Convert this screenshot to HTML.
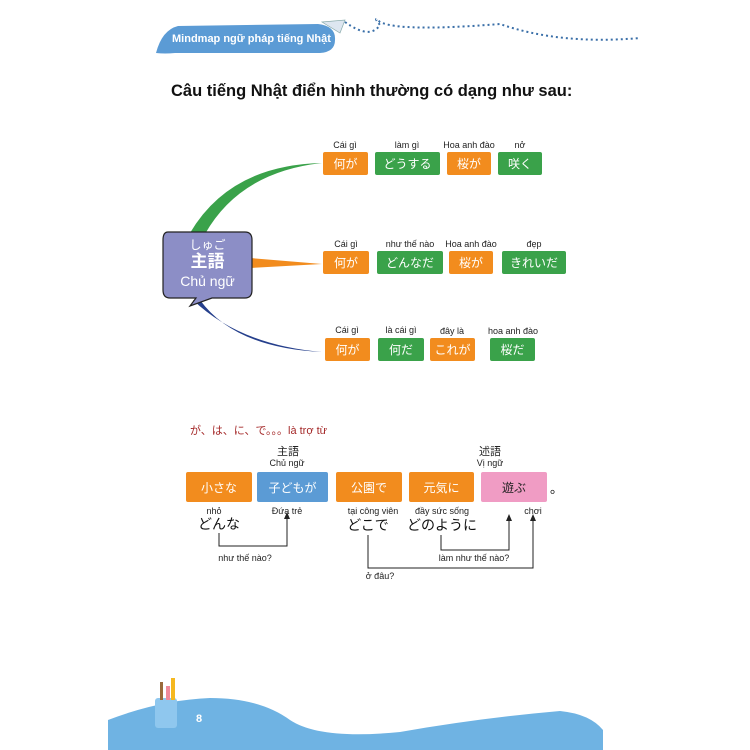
<!DOCTYPE html>
<html><head><meta charset="utf-8"><style>
body{margin:0;width:750px;height:750px;background:#fff;position:relative;overflow:hidden;font-family:"Liberation Sans","Noto Sans CJK JP",sans-serif}
.a{position:absolute}
.b{position:absolute;color:#fff;font-size:12px;text-align:center;border-radius:2px;display:flex;align-items:center;justify-content:center}
.o{background:#f28c1e}.g{background:#3aa24a}
.l{position:absolute;font-size:9px;color:#222;text-align:center;white-space:nowrap;transform:translateX(-50%)}
.j{position:absolute;font-size:14px;color:#111;white-space:nowrap;transform:translateX(-50%)}
</style></head><body>
<svg class="a" style="left:0;top:0" width="750" height="750">
<path d="M156 53 Q162 30 178 26 L318 24 Q336 26 335 40 Q335 52 320 53 L175 53 Q165 54 156 53 Z" fill="#5b9bd5"/>
<path d="M322 22 L345 20 L340 33 Z" fill="#dde6f0" stroke="#8aa" stroke-width="0.7"/>
<path d="M345 22 Q370 40 380 25 Q372 15 380 22 Q400 32 500 24 Q560 45 640 38" fill="none" stroke="#3a6fa8" stroke-width="2" stroke-dasharray="2 3"/>
<path d="M190 233 Q230 165 322 163 Q240 172 205 234 Z" fill="#3aa24a"/>
<path d="M250 258 L322 264 L250 268 Z" fill="#f28c1e"/>
<path d="M193 300 Q240 345 322 352 Q235 348 200 300 Z" fill="#253f8c"/>
<path d="M168 232 L245 232 Q252 232 252 240 L252 290 Q252 298 245 298 L212 298 L190 306 L196 298 L170 298 Q163 298 163 290 L163 240 Q163 232 168 232 Z" fill="#8c8ec6" stroke="#222" stroke-width="1.2"/>
<path d="M108 720 Q160 700 210 698 Q260 698 290 720 Q320 740 400 732 Q480 718 560 711 Q590 714 603 730 L603 750 L108 750 Z" fill="#6fb3e3"/>
<g stroke="#222" stroke-width="1" fill="none">
<path d="M219 533 V546 H287 V518"/>
<path d="M368 535 V568 H533 V520"/>
<path d="M441 535 V550 H509 V520"/>
</g>
<g fill="#222"><path d="M284 519 L287 512 L290 519Z"/><path d="M530 521 L533 514 L536 521Z"/><path d="M506 521 L509 514 L512 521Z"/></g>
<rect x="155" y="698" width="22" height="30" rx="3" fill="#8fc7ee"/>
<rect x="160" y="682" width="3" height="18" fill="#9a6a3a"/><rect x="166" y="686" width="4" height="14" fill="#f08a9a"/><rect x="171" y="678" width="4" height="22" fill="#f5b820"/>
</svg>
<div class="a" style="left:172px;top:33px;font-size:11px;font-weight:bold;color:#fff">Mindmap ngữ pháp tiếng Nhật</div>
<div class="a" style="left:171px;top:82px;font-size:16.5px;font-weight:bold;color:#111">Câu tiếng Nhật điển hình thường có dạng như sau:</div>
<div class="a" style="left:163px;top:238px;width:89px;text-align:center;color:#fff;line-height:1.2"><div style="font-size:12px">しゅご</div><div style="font-size:17px;font-weight:bold">主語</div><div style="font-size:14px">Chủ ngữ</div></div>
<div class="l" style="left:345px;top:140px">Cái gì</div><div class="l" style="left:407px;top:140px">làm gì</div><div class="l" style="left:469px;top:140px">Hoa anh đào</div><div class="l" style="left:520px;top:140px">nở</div>
<div class="b o" style="left:323px;top:152px;width:45px;height:23px">何が</div><div class="b g" style="left:375px;top:152px;width:65px;height:23px">どうする</div><div class="b o" style="left:447px;top:152px;width:44px;height:23px">桜が</div><div class="b g" style="left:498px;top:152px;width:44px;height:23px">咲く</div>
<div class="l" style="left:346px;top:239px">Cái gì</div><div class="l" style="left:410px;top:239px">như thế nào</div><div class="l" style="left:471px;top:239px">Hoa anh đào</div><div class="l" style="left:534px;top:239px">đẹp</div>
<div class="b o" style="left:323px;top:251px;width:46px;height:23px">何が</div><div class="b g" style="left:377px;top:251px;width:66px;height:23px">どんなだ</div><div class="b o" style="left:449px;top:251px;width:44px;height:23px">桜が</div><div class="b g" style="left:502px;top:251px;width:64px;height:23px">きれいだ</div>
<div class="l" style="left:347px;top:325px">Cái gì</div><div class="l" style="left:401px;top:325px">là cái gì</div><div class="l" style="left:452px;top:326px">đây là</div><div class="l" style="left:513px;top:326px">hoa anh đào</div>
<div class="b o" style="left:325px;top:338px;width:45px;height:23px">何が</div><div class="b g" style="left:378px;top:338px;width:46px;height:23px">何だ</div><div class="b o" style="left:430px;top:338px;width:45px;height:23px">これが</div><div class="b g" style="left:490px;top:338px;width:45px;height:23px">桜だ</div>
<div class="a" style="left:190px;top:422px;font-size:11px;color:#a52a2a">が、は、に、で。。。là trợ từ</div>
<div class="l" style="left:288px;top:443px;font-size:11px">主語</div><div class="l" style="left:287px;top:458px">Chủ ngữ</div>
<div class="l" style="left:490px;top:443px;font-size:11px">述語</div><div class="l" style="left:490px;top:458px">Vị ngữ</div>
<div class="b o" style="left:186px;top:472px;width:66px;height:30px">小さな</div>
<div class="b" style="left:257px;top:472px;width:71px;height:30px;background:#5b9bd5">子どもが</div>
<div class="b o" style="left:336px;top:472px;width:66px;height:30px">公園で</div>
<div class="b o" style="left:409px;top:472px;width:65px;height:30px">元気に</div>
<div class="b" style="left:481px;top:472px;width:66px;height:30px;background:#f09cc4;color:#222">遊ぶ</div>
<div class="a" style="left:550px;top:478px;font-size:13px">。</div>
<div class="l" style="left:214px;top:506px">nhỏ</div><div class="j" style="left:219px;top:514px">どんな</div>
<div class="l" style="left:287px;top:506px">Đứa trẻ</div>
<div class="l" style="left:373px;top:506px">tại công viên</div><div class="j" style="left:368px;top:515px">どこで</div>
<div class="l" style="left:442px;top:506px">đầy sức sống</div><div class="j" style="left:442px;top:515px">どのように</div>
<div class="l" style="left:533px;top:506px">chơi</div>
<div class="l" style="left:245px;top:553px">như thế nào?</div>
<div class="l" style="left:474px;top:553px">làm như thế nào?</div>
<div class="l" style="left:380px;top:571px">ở đâu?</div>
<div class="a" style="left:196px;top:713px;font-size:11px;font-weight:bold;color:#fff">8</div>
</body></html>
